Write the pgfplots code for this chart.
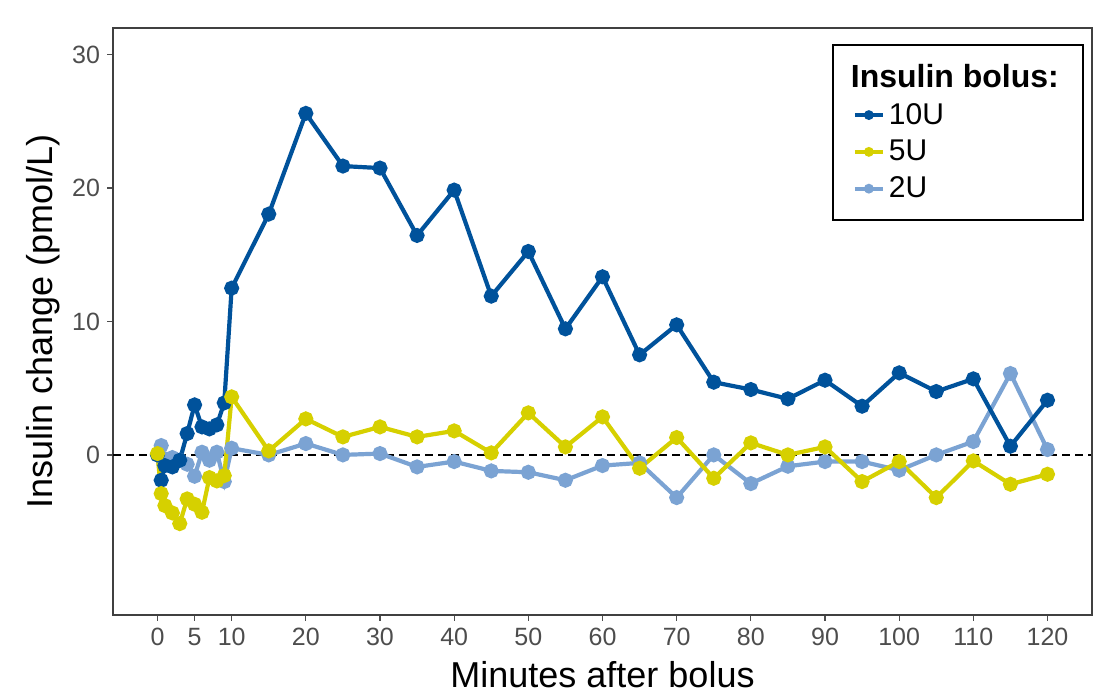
\documentclass[border=0pt]{standalone}
\usepackage{pgfplots}
\pgfplotsset{compat=1.18}
\usepackage{fontspec}
\setmainfont{Liberation Sans}
\usetikzlibrary{calc}
\definecolor{c10}{RGB}{0,82,155}
\definecolor{c5}{RGB}{214,208,0}
\definecolor{c2}{RGB}{123,163,211}
\definecolor{tickgray}{RGB}{77,77,77}
\begin{document}
\begin{tikzpicture}
\begin{axis}[
  scale only axis,
  width=489.5pt, height=293.5pt,
  xmin=-6, xmax=126, ymin=-12, ymax=32,
  xtick={0,5,10,20,30,40,50,60,70,80,90,100,110,120},
  ytick={0,10,20,30},
  tick align=outside,
  tick pos=left,
  major tick length=3pt,
  tick style={tickgray, line width=0.6pt},
  axis line style={black!75, line width=0.6pt},
  ticklabel style={font=\fontsize{12.5}{14}\selectfont, text=tickgray},
  /pgf/number format/assume math mode=true,
  xlabel={Minutes after bolus},
  ylabel={Insulin change (pmol/L)},
  label style={font=\fontsize{18}{21}\selectfont},
  xlabel style={yshift=-1pt},
  ylabel style={yshift=-1pt},
  legend cell align=left,
  legend style={at={(0.7344,0.9727)}, anchor=north west, draw=black, line width=0.9pt,
    font=\fontsize{15}{17}\selectfont, inner xsep=10pt, inner ysep=7.5pt,
    row sep=2.5pt},
  legend image code/.code={
    \draw[#1, line width=2pt] (0pt,0pt) -- (14pt,0pt);
    \fill[#1] (7pt,0pt) circle (2pt);
  },
]
\addplot[black, dashed, dash pattern=on 4pt off 2.5pt, line width=0.7pt, forget plot] coordinates {(-6,0) (126,0)};
% 2U
\addplot[c2, line width=2.1pt, mark=*, mark size=2.7pt, forget plot] coordinates {
(0,0) (0.5,0.7) (1,-0.3) (2,-0.2) (3,-0.4) (4,-0.7) (5,-1.6) (6,0.2) (7,-0.4) (8,0.2) (9,-2.0) (10,0.5)
(15,0.0) (20,0.85) (25,0.0) (30,0.1) (35,-0.9) (40,-0.5) (45,-1.2) (50,-1.3) (55,-1.9) (60,-0.8)
(65,-0.6) (70,-3.2) (75,0.0) (80,-2.15) (85,-0.85) (90,-0.5) (95,-0.5) (100,-1.15) (105,0.0)
(110,1.0) (115,6.1) (120,0.4)};
% 10U
\addplot[c10, line width=2.1pt, mark=*, mark size=2.7pt, forget plot] coordinates {
(0,0) (0.5,-1.9) (1,-0.8) (2,-0.9) (3,-0.4) (4,1.6) (5,3.75) (6,2.1) (7,1.95) (8,2.25) (9,3.9) (10,12.5)
(15,18.05) (20,25.6) (25,21.65) (30,21.5) (35,16.45) (40,19.85) (45,11.9) (50,15.25) (55,9.45)
(60,13.35) (65,7.5) (70,9.75) (75,5.45) (80,4.9) (85,4.2) (90,5.6) (95,3.65) (100,6.15) (105,4.75)
(110,5.7) (115,0.65) (120,4.1)};
% 5U
\addplot[c5, line width=2.1pt, mark=*, mark size=2.7pt, forget plot] coordinates {
(0,0.1) (0.5,-2.9) (1,-3.8) (2,-4.35) (3,-5.15) (4,-3.3) (5,-3.7) (6,-4.3) (7,-1.7) (8,-1.95) (9,-1.55) (10,4.35)
(15,0.3) (20,2.7) (25,1.35) (30,2.1) (35,1.35) (40,1.8) (45,0.15) (50,3.15) (55,0.6) (60,2.85)
(65,-1.0) (70,1.3) (75,-1.75) (80,0.9) (85,0.0) (90,0.6) (95,-2.0) (100,-0.5) (105,-3.2)
(110,-0.45) (115,-2.2) (120,-1.45)};
\addlegendimage{empty legend}
\addlegendentry{\hspace{-19pt}\textbf{\fontsize{16}{18}\selectfont Insulin bolus:}}
\addlegendimage{c10}
\addlegendentry{10U}
\addlegendimage{c5}
\addlegendentry{5U}
\addlegendimage{c2}
\addlegendentry{2U}
\draw[black!75, line width=0.6pt] (rel axis cs:0,1) -- (rel axis cs:1,1) -- (rel axis cs:1,0);
\end{axis}
\pgfresetboundingbox
\path ($(current axis.south west)+(-56.5pt,-39.5pt)$) rectangle ($(current axis.north east)+(2pt,14pt)$);
\end{tikzpicture}
\end{document}
